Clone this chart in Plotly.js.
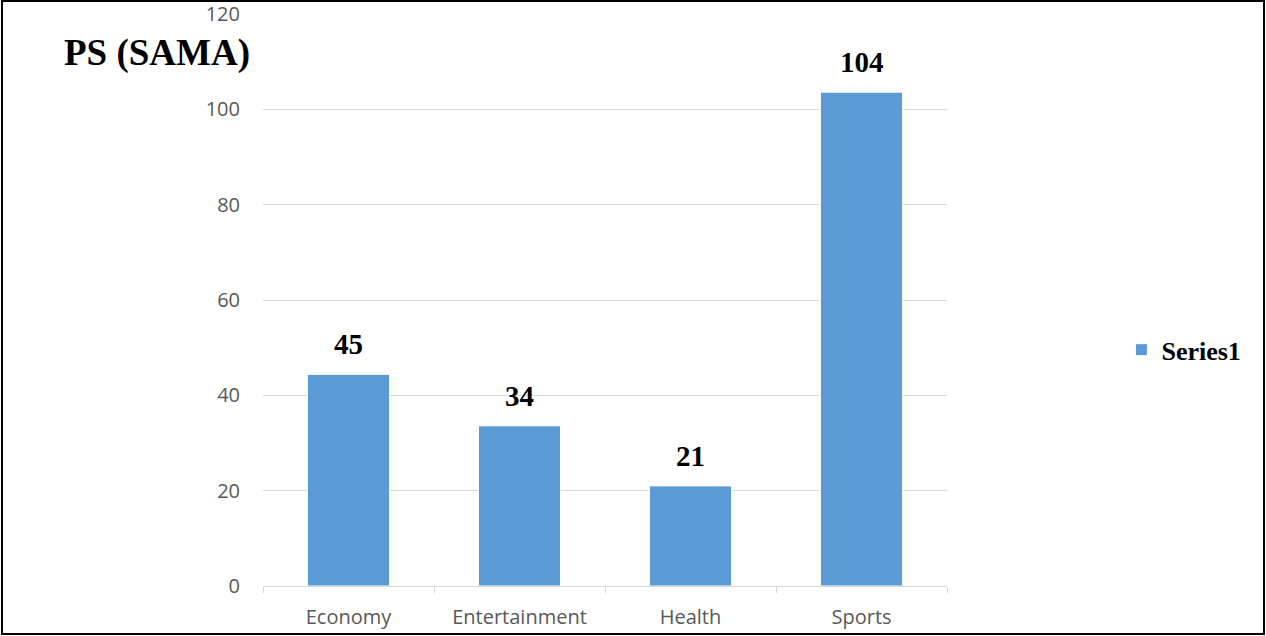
<!DOCTYPE html>
<html>
<head>
<meta charset="utf-8">
<script src="https://cdn.plot.ly/plotly-3.0.1.min.js"></script>
<style>
  html, body { margin: 0; padding: 0; background: #fff; }
  #wrap { position: relative; width: 1266px; height: 636px; }
  #chart { position: absolute; left: 0; top: 0; width: 1266px; height: 636px; }
  #frame { position: absolute; left: 1px; top: 0; width: 1264px; height: 635px;
           border: 2px solid #000; box-sizing: border-box; pointer-events: none; }
</style>
</head>
<body>
<div id="wrap">
  <div id="chart"></div>
  <div id="frame"></div>
</div>
<script>
const categories = ["Economy", "Entertainment", "Health", "Sports"];
const values = [44.4, 33.6, 21.0, 103.6];
const labels = ["45", "34", "21", "104"];
const yTicks = [0, 20, 40, 60, 80, 100, 120];
const seriesName = "Series1";
const chartTitle = "PS (SAMA)";

const trace = {
  type: "bar",
  x: categories,
  y: values,
  name: seriesName,
  marker: { color: "#5b9bd5", line: { color: "#ffffff", width: 1 } },
  hoverinfo: "none"
};

const annotations = categories.map((c, i) => ({
  x: c, y: values[i], xref: "x", yref: "y",
  text: "<b>" + labels[i] + "</b>", showarrow: false,
  yanchor: "bottom", yshift: 12,
  font: { family: "Liberation Serif, Times New Roman, serif", size: 29, color: "#000" }
}));

const layout = {
  width: 1266, height: 636,
  margin: { l: 263, r: 319, t: 14, b: 50 },
  paper_bgcolor: "#fff", plot_bgcolor: "#fff",
  bargap: 0.52,
  showlegend: true,
  legend: {
    x: 1.255, xanchor: "left", y: 0.413, yanchor: "middle",
    font: { family: "Liberation Serif, Times New Roman, serif", size: 26, color: "#000", weight: "bold" },
    itemwidth: 30
  },
  title: {
    text: "<b>" + chartTitle + "</b>",
    xref: "container", yref: "container",
    x: 64 / 1266, xanchor: "left",
    y: 1 - 52 / 636, yanchor: "middle",
    font: { family: "Liberation Serif, Times New Roman, serif", size: 37, color: "#000" }
  },
  xaxis: {
    type: "category",
    showline: true, linecolor: "#d9d9d9", linewidth: 1,
    ticks: "outside", tickson: "boundaries", ticklen: 6, tickcolor: "#d9d9d9",
    showgrid: false,
    tickfont: { family: "Open Sans, sans-serif", size: 20, color: "#595959" },
    ticklabelstandoff: 13
  },
  yaxis: {
    range: [0, 120],
    tickvals: yTicks, ticktext: yTicks.map(String),
    showgrid: true, gridcolor: "#d9d9d9", gridwidth: 1,
    zeroline: false, showline: false, ticks: "",
    tickfont: { family: "Open Sans, sans-serif", size: 20, color: "#595959" },
    ticklabelstandoff: 22
  },
  annotations: annotations
};

Plotly.newPlot("chart", [trace], layout, { displayModeBar: false, staticPlot: true });
</script>
</body>
</html>
